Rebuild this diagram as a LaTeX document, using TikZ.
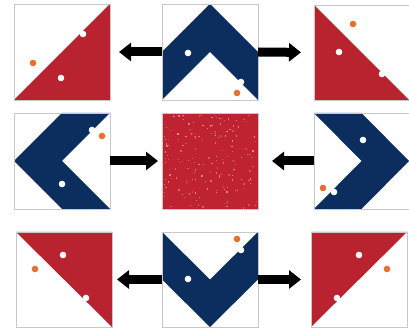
\documentclass[tikz,border=0pt]{standalone}
\usetikzlibrary{arrows.meta}
\definecolor{qred}{HTML}{B8232F}
\definecolor{qred2}{HTML}{BF2230}
\definecolor{qnavy}{HTML}{0B2E5E}
\definecolor{qorange}{HTML}{E86E2E}
\definecolor{framegray}{HTML}{C8C8C8}
\begin{document}
\begin{tikzpicture}[x=1pt,y=-1pt,
  panel/.style={rectangle, inner sep=0pt, outer sep=0pt, minimum width=96pt, minimum height=96pt, draw=none},
  frame/.style={draw=framegray, line width=0.8pt},
  redfill/.style={fill=qred},
  navyfill/.style={fill=qnavy},
  bigarrow/.style={draw=black, line width=9pt, -{Triangle[width=18pt,length=12pt]}},
  wdot/.style={fill=white},
  odot/.style={fill=qorange}]
\useasboundingbox (0,0) rectangle (409,328);
\fill[white] (0,0) rectangle (409,328);
% panels
\node[panel] (p1) at (62,52) {};
\node[panel] (p2) at (210,52) {};
\node[panel, minimum width=95pt, minimum height=95pt] (p3) at (361.5,52.5) {};
\node[panel] (p4) at (62,161) {};
\node[panel] (p5) at (210,161) {};
\node[panel, minimum width=95pt] (p6) at (361.5,161) {};
\node[panel, minimum height=95pt] (p7) at (64,279.5) {};
\node[panel, minimum height=95pt] (p8) at (210,279.5) {};
\node[panel, minimum height=95pt] (p9) at (359,279.5) {};
% contents
\fill[redfill] (p1.south west) -- (p1.north east) -- (p1.south east) -- cycle;
\fill[navyfill] (p2.west) -- (p2.north) -- (p2.east) -- (p2.south east) -- (p2.center) -- (p2.south west) -- cycle;
\fill[redfill] (p3.north west) -- (p3.south east) -- (p3.south west) -- cycle;
\fill[navyfill] (p4.north) -- (p4.north east) -- (p4.center) -- (p4.south east) -- (p4.south) -- (p4.west) -- cycle;
\fill[qred2] (p5.south west) rectangle (p5.north east);
\pgfmathsetseed{11}
\foreach \i in {1,...,170}{
  \pgfmathsetmacro\rx{rnd*93-46.5}
  \pgfmathsetmacro\ry{rnd*93-46.5}
  \pgfmathsetmacro\op{0.18+0.35*rnd}
  \fill[white, fill opacity=\op, shift={(p5.center)}] (\rx,\ry) rectangle ++(1.3,1.3);
}
\fill[navyfill] (p6.north west) -- (p6.north) -- (p6.east) -- (p6.south) -- (p6.south west) -- (p6.center) -- cycle;
\fill[redfill] (p7.north west) -- (p7.north east) -- (p7.south east) -- cycle;
\fill[navyfill] (p8.north west) -- (p8.center) -- (p8.north east) -- (p8.east) -- (p8.south) -- (p8.west) -- cycle;
\fill[redfill] (p9.north west) -- (p9.north east) -- (p9.south west) -- cycle;
% frames
\foreach \p in {p1,p2,p3,p4,p5,p6,p7,p8,p9}{
  \draw[frame] (\p.south west) rectangle (\p.north east);
}
% dots
\fill[wdot] (83,34) circle (3.3);
\fill[wdot] (61,78) circle (3.3);
\fill[odot] (33,63) circle (3.3);
\fill[wdot] (188,53) circle (3.3);
\fill[wdot] (241,82) circle (3.3);
\fill[odot] (237,93) circle (3.3);
\fill[odot] (353,24) circle (3.3);
\fill[wdot] (339,52) circle (3.3);
\fill[wdot] (382,74) circle (3.3);
\fill[wdot] (62,184) circle (3.3);
\fill[wdot] (92,130) circle (3.3);
\fill[odot] (102,136) circle (3.3);
\fill[wdot] (363,140) circle (3.3);
\fill[wdot] (334,192) circle (3.3);
\fill[odot] (323,188) circle (3.3);
\fill[wdot] (63,255) circle (3.3);
\fill[wdot] (86,298) circle (3.3);
\fill[odot] (35,269) circle (3.3);
\fill[wdot] (188,279) circle (3.3);
\fill[wdot] (241,250) circle (3.3);
\fill[odot] (237,239) circle (3.3);
\fill[wdot] (359,255) circle (3.3);
\fill[wdot] (337,298) circle (3.3);
\fill[odot] (387,269) circle (3.3);
% arrows
\draw[bigarrow, shorten >=9pt] (p2.west) -- (p1.east);
\draw[bigarrow, shorten >=13pt] (p2.east) -- (p3.west);
\draw[bigarrow, shorten >=4pt] (p4.east) -- (p5.west);
\draw[bigarrow, shorten >=14pt] (p6.west) -- (p5.east);
\draw[bigarrow, shorten >=5pt] (p8.west) -- (p7.east);
\draw[bigarrow, shorten >=10pt] (p8.east) -- (p9.west);
\end{tikzpicture}
\end{document}
